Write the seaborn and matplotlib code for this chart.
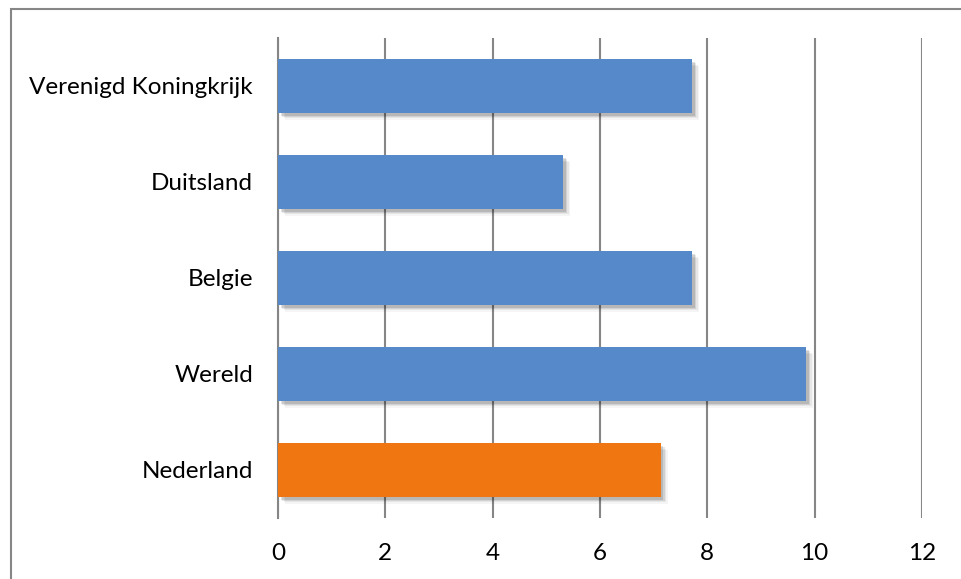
import matplotlib
matplotlib.use("Agg")
import matplotlib.pyplot as plt
import matplotlib.patheffects as pe
from matplotlib.patches import Rectangle
import seaborn as sns
import pandas as pd

countries = ["Verenigd Koningkrijk", "Duitsland", "Belgie", "Wereld", "Nederland"]
values = [7.72, 5.31, 7.72, 9.84, 7.13]
bar_colors = ["#5589CA", "#5589CA", "#5589CA", "#5589CA", "#F07612"]
x_ticks = [0, 2, 4, 6, 8, 10, 12]

sns.set_theme(style="white")
plt.rcParams["font.family"] = ["Lato", "DejaVu Sans"]

df = pd.DataFrame({"land": countries, "waarde": values})

fig = plt.figure(figsize=(9.61, 5.79), dpi=100)
ax = fig.add_axes([278 / 961, 1 - 518 / 579, (922 - 278) / 961, (518 - 38) / 579])

sns.barplot(data=df, x="waarde", y="land", hue="land", palette=bar_colors,
            order=countries, hue_order=countries, legend=False,
            width=0.56, saturation=1, ax=ax, zorder=3)

# soft drop shadow under each bar
shadow = [
    pe.SimplePatchShadow(offset=(5, -5), shadow_rgbFace="#000000", alpha=0.04),
    pe.SimplePatchShadow(offset=(4, -4), shadow_rgbFace="#000000", alpha=0.06),
    pe.SimplePatchShadow(offset=(3, -3), shadow_rgbFace="#000000", alpha=0.09),
    pe.SimplePatchShadow(offset=(2, -2), shadow_rgbFace="#000000", alpha=0.12),
    pe.Normal(),
]
for p in ax.patches:
    p.set_edgecolor("none")
    p.set_path_effects(shadow)

ax.set_xlim(0, 12)
ax.set_ylim(4.5, -0.5)
ax.set_xticks(x_ticks)
ax.set_xticklabels([str(t) for t in x_ticks])
ax.grid(axis="x", color="#868686", linewidth=1.5, zorder=0)
ax.grid(axis="y", visible=False)
ax.set_axisbelow(True)
for side in ["top", "right", "bottom"]:
    ax.spines[side].set_visible(False)
ax.spines["left"].set_color("#868686")
ax.spines["left"].set_linewidth(1.5)
ax.tick_params(axis="x", length=0, pad=18, labelsize=17.5, colors="#000000")
ax.tick_params(axis="y", length=0, pad=18, labelsize=17.5, colors="#000000")
ax.set_xlabel("")
ax.set_ylabel("")

# chart frame
fig.patches.append(Rectangle((11 / 961, -0.05), 1.1, 1 - 9 / 579 + 0.05,
                             transform=fig.transFigure, fill=False,
                             edgecolor="#868686", linewidth=1.5))

fig.savefig("out.png", dpi=100, facecolor="white")
